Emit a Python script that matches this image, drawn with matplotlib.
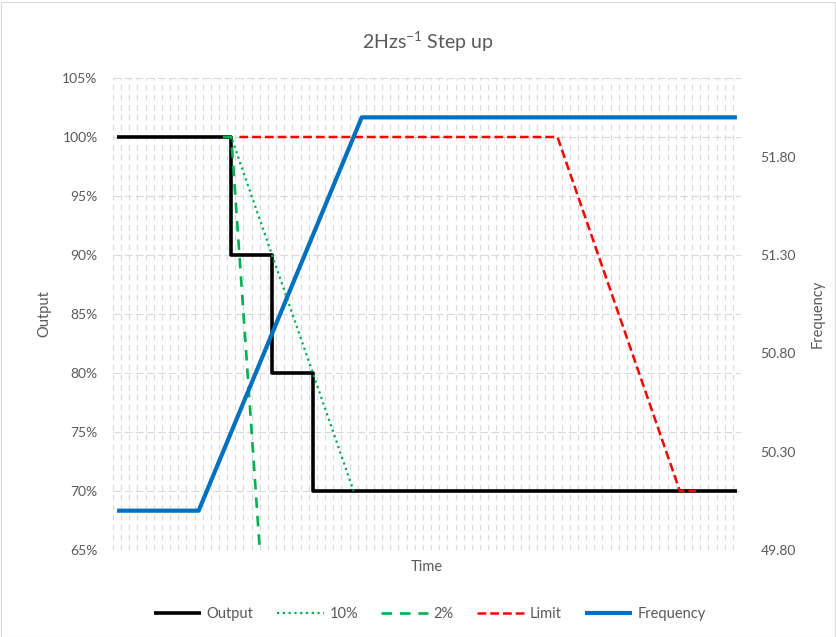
import numpy as np
import matplotlib
matplotlib.use("Agg")
import matplotlib.pyplot as plt
from matplotlib.patches import Rectangle
from matplotlib.ticker import FuncFormatter

plt.rcParams['font.family'] = ['Lato', 'DejaVu Sans']
plt.rcParams['mathtext.fontset'] = 'custom'
plt.rcParams['mathtext.rm'] = 'Lato'
plt.rcParams['mathtext.it'] = 'Lato:italic'
plt.rcParams['mathtext.bf'] = 'Lato:bold'

# time steps (category index) and values at the break points
n_steps = 77

output_t = [0, 14, 19, 24, 76]
output_v = [100, 90, 80, 70, 70]

ten_t = [13, 14, 29]
ten_v = [100, 100, 70]

two_t = [13, 14, 15, 16, 17, 18]
two_v = [100, 100, 90, 80, 70, 60]

limit_t = [15, 54, 69, 71]
limit_v = [100, 100, 70, 70]

freq_t = [0, 10, 30, 76]
freq_v = [50.0, 50.0, 52.0, 52.0]

left_ticks = [65, 70, 75, 80, 85, 90, 95, 100, 105]
right_ticks = [49.8, 50.3, 50.8, 51.3, 51.8]

txt = '#595959'
grid_c = '#d9d9d9'

W, H = 836, 637
fig = plt.figure(figsize=(W / 100, H / 100), dpi=100)
fig.patches.append(Rectangle((0.5 / W, 0.5 / H), 1 - 2 / W, 1 - 2 / H,
                             transform=fig.transFigure, fill=False,
                             edgecolor=grid_c, linewidth=0.8))

ax = fig.add_axes([113 / W, 1 - 550 / H, 628 / W, 472 / H])
ax2 = ax.twinx()

ax.set_xlim(-0.5, n_steps - 0.5)
ax.set_ylim(65, 105)
ax2.set_ylim(49.8, 52.2)

# gridlines: vertical between categories, horizontal on the left axis ticks
ax.set_xticks(np.arange(-0.5, n_steps, 1))
ax.set_xticklabels([])
ax.tick_params(axis='x', length=0)
ax.grid(axis='x', color=grid_c, linewidth=0.8, linestyle=(0, (5, 4)))
ax.set_yticks(left_ticks)
ax.grid(axis='y', color=grid_c, linewidth=0.8, linestyle=(0, (7, 3)))
ax.set_axisbelow(True)
ax.yaxis.set_major_formatter(FuncFormatter(lambda v, p: f"{v:.0f}%"))
ax.tick_params(axis='y', length=0, pad=11, labelsize=10, labelcolor=txt)

ax2.set_yticks(right_ticks)
ax2.yaxis.set_major_formatter(FuncFormatter(lambda v, p: f"{v:.2f}"))
ax2.tick_params(axis='y', length=0, pad=14, labelsize=10, labelcolor=txt)

for a in (ax, ax2):
    for s in a.spines.values():
        s.set_visible(False)

l1, = ax.plot(output_t, output_v, color='black', linewidth=2.6,
              drawstyle='steps-post', label='Output', solid_capstyle='butt')
l2, = ax.plot(ten_t, ten_v, color='#00b050', linewidth=1.6,
              linestyle=(0, (1, 1.6)), label='10%')
l3, = ax.plot(two_t, two_v, color='#00b050', linewidth=1.9,
              linestyle=(0, (4, 3)), label='2%')
l4, = ax.plot(limit_t, limit_v, color='#ff0000', linewidth=1.8,
              linestyle=(0, (3.5, 1.6)), label='Limit')
l5, = ax2.plot(freq_t, freq_v, color='#0070c0', linewidth=3.0,
               label='Frequency', solid_capstyle='butt')

ax.set_ylabel('Output', color=txt, fontsize=10.5)
ax.yaxis.set_label_coords(-62 / 628, 0.5)
ax2.set_ylabel('Frequency', color=txt, fontsize=10.5)
ax2.yaxis.set_label_coords(1 + 70 / 628, 0.5)
ax.set_xlabel('Time', color=txt, fontsize=10.5, labelpad=4)

fig.text(428 / W, 1 - 42 / H, r'2Hzs$^{-1}$ Step up', ha='center', va='center',
         fontsize=14, color=txt)

fig.legend(handles=[l1, l2, l3, l4, l5], loc='center', ncol=5,
           bbox_to_anchor=(430 / W, 1 - 614 / H), frameon=False,
           fontsize=10.5, labelcolor=txt, handlelength=3.2,
           handletextpad=0.4, columnspacing=1.6)

fig.savefig('out.png', dpi=100)
